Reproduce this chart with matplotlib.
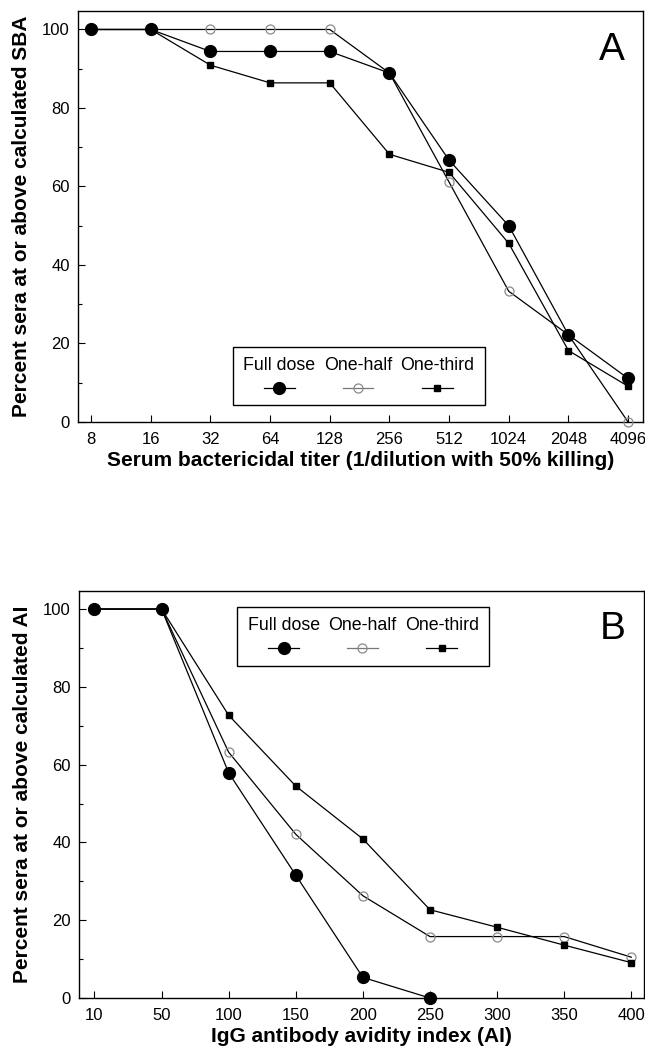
import matplotlib
matplotlib.use("Agg")
import matplotlib.pyplot as plt
from matplotlib.lines import Line2D
from matplotlib.offsetbox import TextArea, DrawingArea, VPacker, HPacker, AnchoredOffsetbox
from matplotlib.ticker import MultipleLocator

plt.rcParams['font.family'] = ['Liberation Sans', 'DejaVu Sans']

# ---- Data ----
series_labels = ["Full dose", "One-half", "One-third"]

titers = ["8", "16", "32", "64", "128", "256", "512", "1024", "2048", "4096"]
sba_full = [100, 100, 94.4, 94.4, 94.4, 88.9, 66.7, 50.0, 22.2, 11.1]
sba_half = [100, 100, 100, 100, 100, 88.9, 61.1, 33.3, 22.2, 0.0]
sba_third = [100, 100, 90.9, 86.4, 86.4, 68.2, 63.6, 45.5, 18.2, 9.1]

avidity = ["10", "50", "100", "150", "200", "250", "300", "350", "400"]
ai_full = [100, 100, 57.9, 31.6, 5.3, 0.0]
ai_half = [100, 100, 63.2, 42.1, 26.3, 15.8, 15.8, 15.8, 10.5]
ai_third = [100, 100, 72.7, 54.5, 40.9, 22.7, 18.2, 13.6, 9.1]

yticks = [0, 20, 40, 60, 80, 100]

# ---- Styles ----
style_full = dict(marker='o', markersize=8.5, markerfacecolor='black', markeredgecolor='black')
style_half = dict(marker='o', markersize=6.5, markerfacecolor='none', markeredgecolor='#8a8a8a', markeredgewidth=0.9)
style_third = dict(marker='s', markersize=4.5, markerfacecolor='black', markeredgecolor='black')

fig = plt.figure(figsize=(6.45, 10.51), dpi=100)
axA = fig.add_axes([0.1209, 0.5985, 0.876, 0.391])
axB = fig.add_axes([0.1225, 0.0504, 0.876, 0.3875])

TICK_FS = 12
LABEL_FS = 15


def draw_panel(ax, cats, full, half, third, xlim, ylabel, xlabel, letter, leg_xy):
    xs = list(range(len(cats)))
    ax.plot(xs[:len(half)], half, color='black', lw=0.9, clip_on=False, zorder=3, **style_half)
    ax.plot(xs[:len(third)], third, color='black', lw=0.9, clip_on=False, zorder=4, **style_third)
    ax.plot(xs[:len(full)], full, color='black', lw=0.9, clip_on=False, zorder=5, **style_full)
    ax.set_xlim(*xlim)
    ax.set_ylim(0, 104.7)
    ax.set_xticks(xs)
    ax.set_xticklabels(cats)
    ax.set_yticks(yticks)
    ax.yaxis.set_minor_locator(MultipleLocator(10))
    ax.tick_params(axis='both', which='major', direction='in', length=5, width=0.8,
                   labelsize=TICK_FS, pad=6)
    ax.tick_params(axis='y', which='minor', direction='in', length=3, width=0.8)
    ax.tick_params(axis='x', which='major', pad=7)
    for s in ax.spines.values():
        s.set_linewidth(1.0)
    ax.set_ylabel(ylabel, fontsize=LABEL_FS, fontweight='bold', labelpad=8)
    ax.set_xlabel(xlabel, fontsize=LABEL_FS, fontweight='bold', labelpad=3)
    ax.text(0.945, 0.905, letter, transform=ax.transAxes, fontsize=28,
            ha='center', va='center')

    # legend: labels above handles
    cols = []
    styles = [style_full, style_half, style_third]
    lcolors = ['black', '#777777', 'black']
    for lab, st, lc in zip(series_labels, styles, lcolors):
        ta = TextArea(lab, textprops=dict(fontsize=12.8))
        da = DrawingArea(22, 10, 0, 0)
        da.add_artist(Line2D([0, 22], [5, 5], color=lc, lw=0.9))
        da.add_artist(Line2D([11], [5], linestyle='none', **st))
        cols.append(VPacker(children=[ta, da], align='center', pad=0, sep=5))
    box = HPacker(children=cols, align='center', pad=0, sep=6)
    anc = AnchoredOffsetbox(loc='center', child=box, pad=0.75, frameon=True,
                            bbox_to_anchor=leg_xy, bbox_transform=ax.transAxes,
                            borderpad=0)
    anc.patch.set_boxstyle('square', pad=0)
    anc.patch.set_edgecolor('black')
    anc.patch.set_linewidth(1.0)
    anc.zorder = 6
    ax.add_artist(anc)


draw_panel(axA, titers, sba_full, sba_half, sba_third, (-0.22, 9.25),
           "Percent sera at or above calculated SBA",
           "Serum bactericidal titer (1/dilution with 50% killing)", "A",
           (0.497, 0.112))
draw_panel(axB, avidity, ai_full, ai_half, ai_third, (-0.23, 8.19),
           "Percent sera at or above calculated AI",
           "IgG antibody avidity index (AI)", "B",
           (0.503, 0.888))

fig.savefig("out.png", dpi=100)
